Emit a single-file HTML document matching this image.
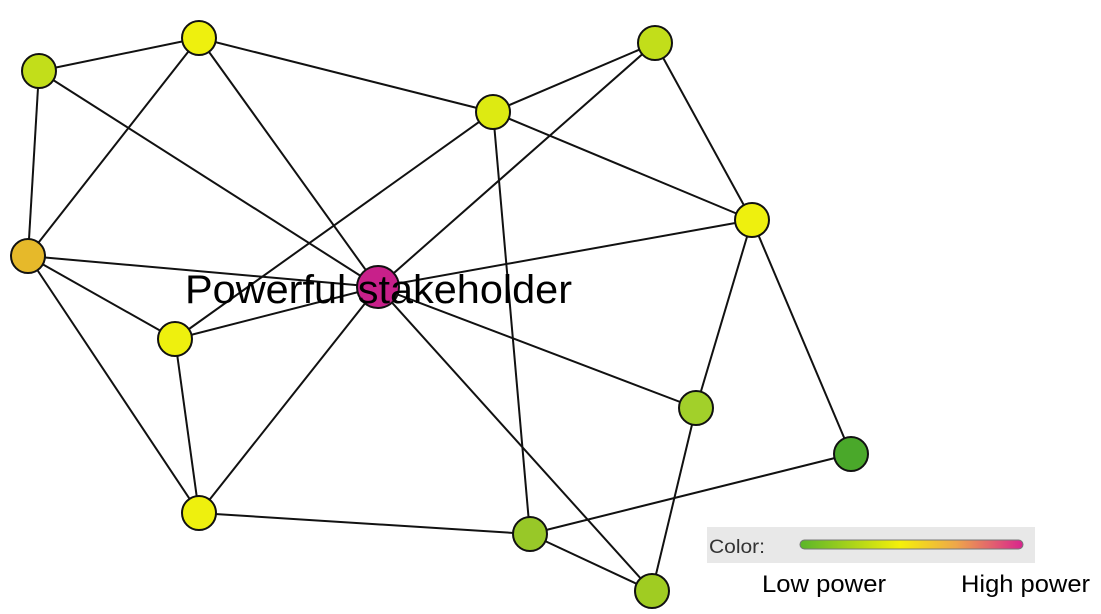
<!DOCTYPE html>
<html><head><meta charset="utf-8"><style>
html,body{margin:0;padding:0;background:#fff;width:1101px;height:614px;overflow:hidden}
</style></head><body>
<svg width="1101" height="614" viewBox="0 0 1101 614" xmlns="http://www.w3.org/2000/svg">
<defs>
<linearGradient id="g" x1="0" x2="1" y1="0" y2="0">
<stop offset="0" stop-color="#5ab52a"/><stop offset="0.45" stop-color="#f5f00a"/><stop offset="0.7" stop-color="#eea74a"/><stop offset="1" stop-color="#d8248e"/>
</linearGradient>
</defs>
<g stroke="#111" stroke-width="2" fill="none">
<line x1="39" y1="71" x2="199" y2="38"/>
<line x1="39" y1="71" x2="28" y2="256"/>
<line x1="39" y1="71" x2="378" y2="287"/>
<line x1="199" y1="38" x2="28" y2="256"/>
<line x1="199" y1="38" x2="378" y2="287"/>
<line x1="199" y1="38" x2="493" y2="112"/>
<line x1="655" y1="43" x2="493" y2="112"/>
<line x1="655" y1="43" x2="752" y2="220"/>
<line x1="655" y1="43" x2="378" y2="287"/>
<line x1="493" y1="112" x2="752" y2="220"/>
<line x1="493" y1="112" x2="175" y2="339"/>
<line x1="493" y1="112" x2="530" y2="534"/>
<line x1="752" y1="220" x2="378" y2="287"/>
<line x1="752" y1="220" x2="696" y2="408"/>
<line x1="752" y1="220" x2="851" y2="454"/>
<line x1="28" y1="256" x2="378" y2="287"/>
<line x1="28" y1="256" x2="175" y2="339"/>
<line x1="28" y1="256" x2="199" y2="513"/>
<line x1="175" y1="339" x2="378" y2="287"/>
<line x1="175" y1="339" x2="199" y2="513"/>
<line x1="199" y1="513" x2="378" y2="287"/>
<line x1="199" y1="513" x2="530" y2="534"/>
<line x1="378" y1="287" x2="696" y2="408"/>
<line x1="378" y1="287" x2="652" y2="591"/>
<line x1="530" y1="534" x2="652" y2="591"/>
<line x1="530" y1="534" x2="851" y2="454"/>
<line x1="696" y1="408" x2="652" y2="591"/>
</g>
<g stroke="#111" stroke-width="2">
<circle cx="39" cy="71" r="17" fill="#c2de1a"/>
<circle cx="199" cy="38" r="17" fill="#eef00e"/>
<circle cx="655" cy="43" r="17" fill="#c2de1a"/>
<circle cx="493" cy="112" r="17" fill="#ddea12"/>
<circle cx="752" cy="220" r="17" fill="#eef00e"/>
<circle cx="28" cy="256" r="17" fill="#e6b92a"/>
<circle cx="175" cy="339" r="17" fill="#eef00e"/>
<circle cx="696" cy="408" r="17" fill="#a2d02a"/>
<circle cx="851" cy="454" r="17" fill="#4aa82a"/>
<circle cx="199" cy="513" r="17" fill="#eef00e"/>
<circle cx="530" cy="534" r="17" fill="#98c828"/>
<circle cx="652" cy="591" r="17" fill="#a0cc22"/>
<circle cx="378" cy="287" r="21" fill="#c8208a"/>
</g>
<text x="185" y="303" font-family="Liberation Sans, sans-serif" font-size="40" fill="#000" textLength="387" lengthAdjust="spacingAndGlyphs">Powerful stakeholder</text>
<rect x="707" y="527" width="328" height="36" fill="#e8e8e8"/>
<text x="709" y="553" font-family="Liberation Sans, sans-serif" font-size="19" fill="#333" textLength="56" lengthAdjust="spacingAndGlyphs">Color:</text>
<rect x="800" y="540" width="223" height="9" rx="4.5" fill="url(#g)" stroke="#777" stroke-width="1"/>
<text x="762" y="592" font-family="Liberation Sans, sans-serif" font-size="24" fill="#000" textLength="124" lengthAdjust="spacingAndGlyphs">Low power</text>
<text x="961" y="592" font-family="Liberation Sans, sans-serif" font-size="24" fill="#000" textLength="129" lengthAdjust="spacingAndGlyphs">High power</text>
</svg>
</body></html>
